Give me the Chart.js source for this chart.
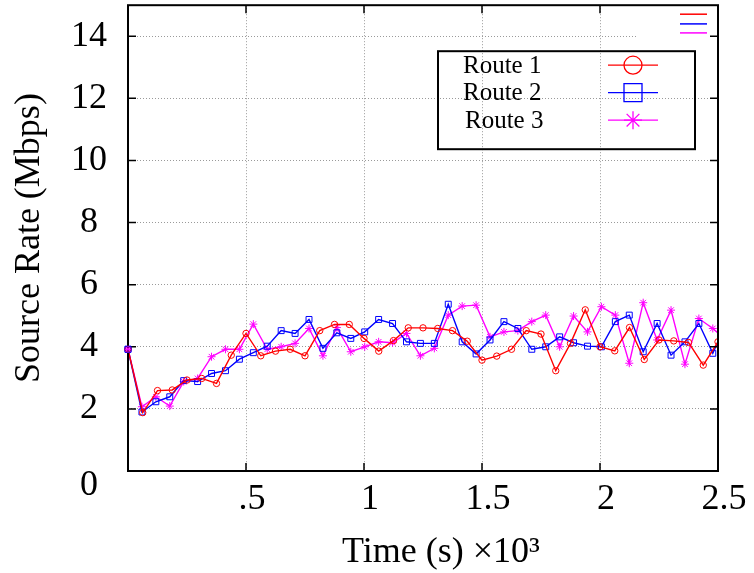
<!DOCTYPE html>
<html><head><meta charset="utf-8">
<script src="https://cdn.jsdelivr.net/npm/chart.js@4.4.1/dist/chart.umd.min.js"></script>
<style>html,body{margin:0;padding:0;background:#fff}canvas{display:block}</style>
</head><body>
<canvas id="c" width="754" height="573"></canvas>
<script>
const seriesLabels = ['Route 1', 'Route 2', 'Route 3'];
const seriesColors = ['#ff0000', '#0000ff', '#ff00ff'];
const seriesMarkers = ['circle', 'rect', 'star'];

const route1Time = [0,62.5,125,187.5,250,312.5,375,437.5,500,562.5,625,687.5,750,812.5,875,937.5,1000,1062.5,1125,1187.5,1250,1312.5,1375,1437.5,1500,1562.5,1625,1687.5,1750,1812.5,1875,1937.5,2000,2062.5,2125,2187.5,2250,2312.5,2375,2437.5,2500];
const route1Rate = [3.92,1.88,2.59,2.61,2.93,2.98,2.82,3.73,4.43,3.71,3.86,3.92,3.71,4.52,4.72,4.72,4.27,3.86,4.2,4.61,4.61,4.59,4.52,4.18,3.57,3.70,3.92,4.52,4.41,3.23,4.11,5.19,4.0,3.87,4.62,3.59,4.22,4.19,4.14,3.41,4.16];

const route23Time = [0,59,118,177,236,295,354,413,472,531,590,649,708,767,826,885,944,1003,1062,1121,1180,1239,1298,1357,1416,1475,1534,1593,1652,1711,1770,1829,1888,1947,2006,2065,2124,2183,2242,2301,2360,2419,2478,2537];
const route2Rate = [3.92,1.90,2.23,2.39,2.91,2.88,3.14,3.23,3.60,3.81,4.02,4.52,4.43,4.88,3.95,4.45,4.27,4.48,4.88,4.75,4.16,4.11,4.11,5.37,4.16,3.77,4.22,4.81,4.59,3.92,4.0,4.32,4.13,4.02,4.0,4.81,5.02,3.84,4.75,3.73,4.16,4.75,3.79,4.8];
const route3Rate = [3.92,2.07,2.39,2.09,2.88,2.98,3.68,3.92,3.92,4.73,3.92,4.0,4.11,4.59,3.71,4.62,3.84,4.0,4.16,4.13,4.43,3.71,3.95,5.02,5.31,5.34,4.32,4.48,4.52,4.81,5.02,4.0,4.99,4.48,5.29,5.02,3.47,5.42,4.22,5.18,3.44,4.91,4.59,4.2];

const xTickValues = [0, 500, 1000, 1500, 2000, 2500];
const xTickLabels = ['', '.5', '1', '1.5', '2', '2.5'];
const yTickValues = [0, 2, 4, 6, 8, 10, 12, 14];
const yTickLabels = ['0', '2', '4', '6', '8', '10', '12', '14'];
const xTitle = '\u2002\u2002Time (s) \u00d710\u00b3';
const yTitle = 'Source Rate (Mbps)';

const FONT = "'Liberation Serif', 'Times New Roman', serif";

function pts(t, v) { return v.map((y, i) => ({x: t[i], y: y})); }

const seriesData = [pts(route1Time, route1Rate), pts(route23Time, route2Rate), pts(route23Time, route3Rate)];
const markerRadius = [3.2, 4.2, 4];

function drawMarker(ctx, style, x, y, r) {
  ctx.beginPath();
  if (style === 'circle') {
    ctx.arc(x, y, r, 0, Math.PI * 2);
  } else if (style === 'rect') {
    ctx.rect(x - r, y - r, 2 * r, 2 * r);
  } else {
    for (let k = 0; k < 4; k++) {
      const a = k * Math.PI / 4;
      ctx.moveTo(x - r * Math.cos(a), y - r * Math.sin(a));
      ctx.lineTo(x + r * Math.cos(a), y + r * Math.sin(a));
    }
  }
  ctx.stroke();
}

const decor = {
  id: 'decor',
  beforeDatasetsDraw(chart) {
    const {ctx, chartArea: a} = chart;
    ctx.save();
    ctx.fillStyle = '#fff';
    ctx.fillRect(a.right - 81, a.top + 1, 80, 38);
    ctx.lineWidth = 1.5;
    const ys = [9, 18.7, 27.7];
    chart.data.datasets.forEach((ds, i) => {
      ctx.strokeStyle = ds.borderColor;
      ctx.beginPath();
      ctx.moveTo(a.right - 38, a.top + ys[i]);
      ctx.lineTo(a.right - 11, a.top + ys[i]);
      ctx.stroke();
    });
    ctx.restore();
  },
  afterDraw(chart) {
    const {ctx, chartArea: a, scales} = chart;
    ctx.save();
    ctx.strokeStyle = '#000';
    ctx.lineWidth = 1.5;
    ctx.beginPath();
    yTickValues.forEach(v => {
      const y = scales.y.getPixelForValue(v);
      ctx.moveTo(a.left, y); ctx.lineTo(a.left + 8, y);
      ctx.moveTo(a.right, y); ctx.lineTo(a.right - 8, y);
    });
    xTickValues.forEach(v => {
      const x = scales.x.getPixelForValue(v);
      ctx.moveTo(x, a.bottom); ctx.lineTo(x, a.bottom - 8);
      ctx.moveTo(x, a.top); ctx.lineTo(x, a.top + 8);
    });
    ctx.stroke();
    ctx.lineWidth = 2;
    ctx.strokeRect(a.left, a.top, a.right - a.left, a.bottom - a.top);
    const bx = a.left + 310, by = a.top + 46, bw = 257, bh = 98;
    ctx.strokeRect(bx, by, bw, bh);
    const rows = [60, 87.5, 115];
    ctx.font = "25px " + FONT;
    ctx.textBaseline = 'middle';
    ctx.textAlign = 'left';
    chart.data.datasets.forEach((ds, i) => {
      const y = a.top + rows[i];
      ctx.fillStyle = '#000';
      ctx.fillText(ds.label, bx + 25 + (i === 2 ? 2 : 0), y + 1);
      ctx.strokeStyle = ds.borderColor;
      ctx.lineWidth = 1.3;
      ctx.beginPath();
      ctx.moveTo(bx + 170, y); ctx.lineTo(bx + 220, y);
      ctx.stroke();
      drawMarker(ctx, ds.pointStyle, bx + 195, y, 9);
    });
    // redraw the shared first markers over the left frame, as in the reference
    chart.data.datasets.forEach((ds, i) => {
      const p = ds.data[0];
      ctx.strokeStyle = ds.borderColor;
      ctx.lineWidth = 1;
      drawMarker(ctx, ds.pointStyle, scales.x.getPixelForValue(p.x), scales.y.getPixelForValue(p.y), i === 1 ? 3 : 3.2);
    });
    ctx.restore();
  }
};

new Chart(document.getElementById('c'), {
  type: 'line',
  data: {
    datasets: seriesLabels.map((label, i) => ({
      label: label,
      data: seriesData[i],
      borderColor: seriesColors[i],
      backgroundColor: 'rgba(0,0,0,0)',
      borderWidth: 1.4,
      pointStyle: seriesMarkers[i],
      pointRadius: markerRadius[i],
      pointBorderWidth: 1,
      pointBorderColor: seriesColors[i],
      pointBackgroundColor: 'rgba(0,0,0,0)',
      tension: 0,
      fill: false,
      clip: {left: 6, top: 0, right: 0, bottom: 0}
    }))
  },
  options: {
    responsive: false,
    animation: false,
    events: [],
    layout: {padding: {left: 0, right: 36, top: 5, bottom: 0}},
    plugins: {legend: {display: false}, tooltip: {enabled: false}},
    scales: {
      x: {
        type: 'linear', min: 0, max: 2500,
        afterBuildTicks: s => { s.ticks = xTickValues.map(v => ({value: v})); },
        afterFit: s => { s.height = 102; s.paddingLeft = 0; s.paddingRight = 0; },
        ticks: {
          callback: v => xTickLabels[xTickValues.indexOf(v)],
          font: {family: FONT, size: 36}, color: '#000',
          padding: 7, labelOffset: 6, maxRotation: 0, autoSkip: false
        },
        grid: {color: '#9a9a9a', lineWidth: 1, drawTicks: false},
        border: {display: false, dash: [1, 2]},
        title: {display: true, text: xTitle, color: '#000',
          font: {family: FONT, size: 36, lineHeight: 1}, padding: {top: 0, bottom: 2}}
      },
      y: {
        min: 0, max: 15,
        afterBuildTicks: s => { s.ticks = yTickValues.map(v => ({value: v})); },
        afterFit: s => { s.width = 128; s.paddingTop = 0; s.paddingBottom = 0; },
        ticks: {
          callback: v => { const s = yTickLabels[yTickValues.indexOf(v)]; return v === 0 ? ['', s] : s; },
          font: {family: FONT, size: 36, lineHeight: 0.8}, color: '#000',
          padding: 21, crossAlign: 'center', autoSkip: false
        },
        grid: {color: '#9a9a9a', lineWidth: 1, drawTicks: false},
        border: {display: false, dash: [1, 2]},
        title: {display: true, text: yTitle, color: '#000',
          font: {family: FONT, size: 36, lineHeight: 1}, padding: {top: 12, bottom: 0}}
      }
    }
  },
  plugins: [decor]
});
</script>
</body></html>
